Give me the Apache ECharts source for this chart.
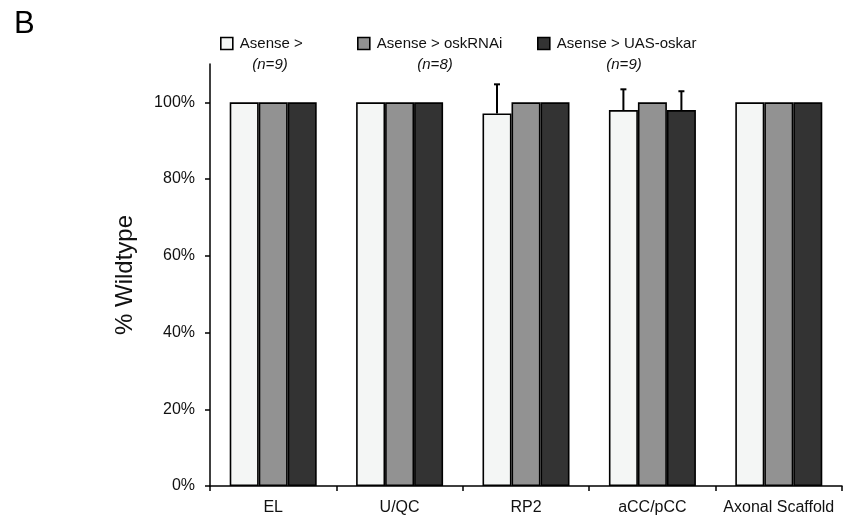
<!DOCTYPE html>
<html>
<head>
<meta charset="utf-8">
<script src="https://cdn.jsdelivr.net/npm/echarts@6/dist/echarts.min.js"></script>
<style>
  html, body { margin: 0; padding: 0; background: #fff; }
  #chart { width: 844px; height: 522px; }
</style>
</head>
<body>
<div id="chart"></div>
<script>
  // 分类与数据
  var categories = ['EL', 'U/QC', 'RP2', 'aCC/pCC', 'Axonal Scaffold'];
  var seriesNames = ['Asense >', 'Asense > oskRNAi', 'Asense > UAS-oskar'];
  var sampleSizes = ['(n=9)', '(n=8)', '(n=9)'];
  var controlValues = [100, 100, 97.1, 98, 100];
  var rnaiValues = [100, 100, 100, 100, 100];
  var uasValues = [100, 100, 100, 98, 100];
  var controlErr = [0, 0, 7.6, 5.4, 0];
  var rnaiErr = [0, 0, 0, 0, 0];
  var uasErr = [0, 0, 0, 4.9, 0];
  var yTicks = [0, 20, 40, 60, 80, 100];

  var fills = ['#f4f6f5', '#929292', '#333333'];
  var allValues = [controlValues, rnaiValues, uasValues];
  var allErr = [controlErr, rnaiErr, uasErr];
  var BAR_W = 29;
  var FONT = 'Liberation Sans, Arial, sans-serif';

  // 误差线数据 [类别, 值, 误差, 系列序号]
  var errData = [];
  allErr.forEach(function (errs, s) {
    errs.forEach(function (e, i) {
      if (e > 0) errData.push([i, allValues[s][i], e, s]);
    });
  });

  var barSeries = seriesNames.map(function (name, s) {
    return {
      name: name,
      type: 'bar',
      data: allValues[s],
      barWidth: BAR_W,
      barGap: 0,
      itemStyle: { color: fills[s], borderColor: '#000', borderWidth: 1.6 }
    };
  });

  var legendLeft = [220, 357, 537];
  var nCenters = [270, 435, 624];

  var option = {
    animation: false,
    textStyle: { fontFamily: FONT },
    grid: { left: 210, right: 2, top: 64, bottom: 36 },
    legend: seriesNames.map(function (name, s) {
      return {
        data: [name],
        left: legendLeft[s],
        top: 36,
        padding: 0,
        itemWidth: 12,
        itemHeight: 12,
        itemGap: 8,
        icon: 'rect',
        itemStyle: { borderColor: '#000', borderWidth: 1.6 },
        textStyle: { fontSize: 15, color: '#111', fontFamily: FONT, padding: [0, 0, 0, 2] }
      };
    }),
    graphic: [{
      type: 'text',
      left: 14,
      top: 9,
      style: { text: 'B', font: '31px "Liberation Sans", Arial, sans-serif', fill: '#000' }
    }].concat(sampleSizes.map(function (t, s) {
      return {
        type: 'text',
        x: nCenters[s],
        y: 65,
        style: {
          text: t, align: 'center', verticalAlign: 'middle',
          font: 'italic 15px "Liberation Sans", Arial, sans-serif', fill: '#111'
        }
      };
    })),
    xAxis: {
      type: 'category',
      data: categories,
      axisLine: { lineStyle: { color: '#000', width: 1.5 } },
      axisTick: { show: true, interval: 0, length: 5, lineStyle: { color: '#000', width: 1.5 } },
      axisLabel: { fontSize: 16, color: '#111', margin: 14, interval: 0, hideOverlap: false },
      splitLine: { show: false }
    },
    yAxis: {
      type: 'value',
      min: 0,
      max: 110,
      name: '% Wildtype',
      nameLocation: 'middle',
      nameGap: 73,
      nameTextStyle: { fontSize: 24, color: '#111' },
      axisLine: { show: true, lineStyle: { color: '#000', width: 1.5 } },
      axisTick: { show: true, length: 5, customValues: yTicks, lineStyle: { color: '#000', width: 1.5 } },
      axisLabel: { fontSize: 16, color: '#111', margin: 15, formatter: '{value}%', customValues: yTicks },
      splitLine: { show: false }
    },
    series: barSeries.concat([{
      type: 'custom',
      name: 'err',
      z: 10,
      data: errData,
      renderItem: function (params, api) {
        var base = api.coord([api.value(0), api.value(1)]);
        var top = api.coord([api.value(0), api.value(1) + api.value(2)]);
        var x = base[0] + (api.value(3) - 1) * BAR_W;
        var st = { stroke: '#000', lineWidth: 2 };
        return {
          type: 'group',
          children: [
            { type: 'line', shape: { x1: x, y1: base[1], x2: x, y2: top[1] }, style: st },
            { type: 'line', shape: { x1: x - 3, y1: top[1], x2: x + 3, y2: top[1] }, style: st }
          ]
        };
      }
    }])
  };

  var chart = echarts.init(document.getElementById('chart'));
  chart.setOption(option);
</script>
</body>
</html>
